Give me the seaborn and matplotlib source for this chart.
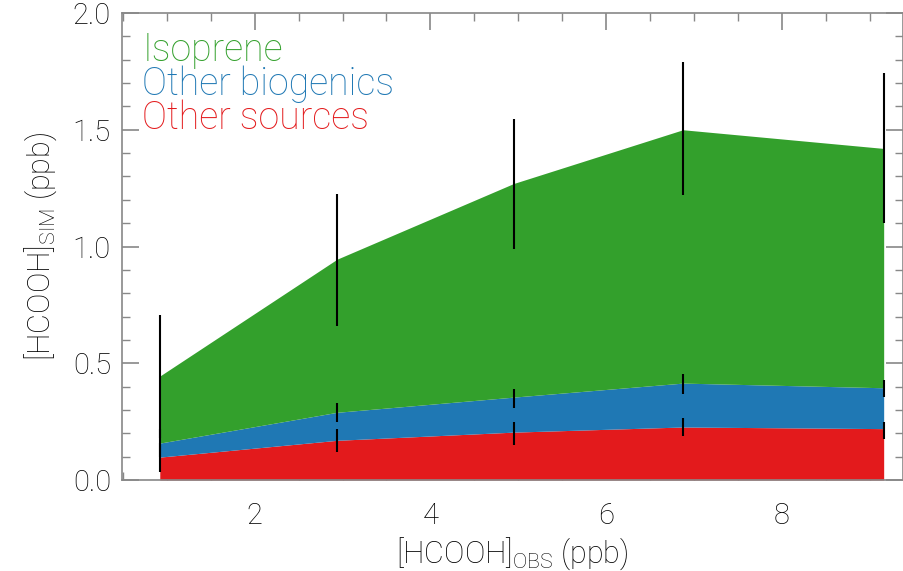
import numpy as np
import pandas as pd
import seaborn as sns
import matplotlib.pyplot as plt

# observed HCOOH bins (ppb)
obs = [0.92, 2.94, 4.95, 6.875, 9.16]

# cumulative simulated HCOOH (ppb)
red_top = [0.098, 0.17, 0.205, 0.227, 0.22]
blue_top = [0.158, 0.29, 0.355, 0.415, 0.395]
green_top = [0.445, 0.946, 1.27, 1.50, 1.42]

# error bar extents
green_lo = [0.18, 0.66, 0.99, 1.22, 1.10]
green_hi = [0.707, 1.225, 1.546, 1.79, 1.745]
blue_lo = [0.10, 0.25, 0.31, 0.37, 0.355]
blue_hi = [0.22, 0.33, 0.39, 0.455, 0.43]
red_lo = [0.034, 0.12, 0.15, 0.19, 0.175]
red_hi = [0.16, 0.22, 0.25, 0.265, 0.25]

labels = ["Isoprene", "Other biogenics", "Other sources"]

sns.set_style("ticks")
plt.rcParams["font.family"] = ["Roboto", "DejaVu Sans"]
plt.rcParams["font.weight"] = "light"
plt.rcParams["axes.labelweight"] = "light"
plt.rcParams["mathtext.fontset"] = "custom"
plt.rcParams["mathtext.rm"] = "Roboto:light"
pal = sns.color_palette("Paired")
c_green, c_blue, c_red = pal[3], pal[1], pal[5]

df = pd.DataFrame({"obs": obs, "red": red_top, "blue": blue_top, "green": green_top})

fig = plt.figure(figsize=(9.04, 5.71), dpi=100)
ax = fig.add_axes([122 / 904, 91 / 571, 781 / 904, 467 / 571])

# stacked source contributions
ax.fill_between(df["obs"], 0, df["red"], color=c_red, lw=0)
ax.fill_between(df["obs"], df["red"], df["blue"], color=c_blue, lw=0)
ax.fill_between(df["obs"], df["blue"], df["green"], color=c_green, lw=0)

ax.vlines(obs, green_lo, green_hi, color="black", lw=1.5)
ax.vlines(obs, blue_lo, blue_hi, color="black", lw=1.5)
ax.vlines(obs, red_lo, red_hi, color="black", lw=1.5)

ax.set_xlim(0.49, 9.38)
ax.set_ylim(0, 2.0)
ax.set_xticks([2, 4, 6, 8])
ax.set_xticks(np.arange(0.5, 9.4, 0.5), minor=True)
ax.set_yticks([0, 0.5, 1.0, 1.5, 2.0])
ax.set_yticklabels(["0.0", "0.5", "1.0", "1.5", "2.0"])
ax.set_yticks(np.arange(0, 2.01, 0.1), minor=True)

for s in ax.spines.values():
    s.set_color("#888888")
    s.set_linewidth(1.2)
ax.tick_params(which="both", direction="in", top=True, right=True,
               color="#888888", labelcolor="black", labelsize=21, pad=8)
ax.tick_params(which="major", length=12, width=1.2)
ax.tick_params(which="minor", length=6, width=1.0)
ax.tick_params(axis="x", pad=16)

ax.set_xlabel(r"$[\mathrm{HCOOH}]_{\mathrm{OBS}}$ (ppb)", fontsize=22,
              labelpad=4, color="black", fontweight="light")
ax.set_ylabel(r"$[\mathrm{HCOOH}]_{\mathrm{SIM}}$ (ppb)", fontsize=22,
              labelpad=10, color="black", fontweight="light")

for i, (lab, col) in enumerate(zip(labels, [c_green, c_blue, c_red])):
    ax.text(0.026, 0.898 - i * 0.0735, lab, color=col, fontsize=27,
            transform=ax.transAxes, ha="left", va="baseline")

fig.savefig("out.png", dpi=100)
